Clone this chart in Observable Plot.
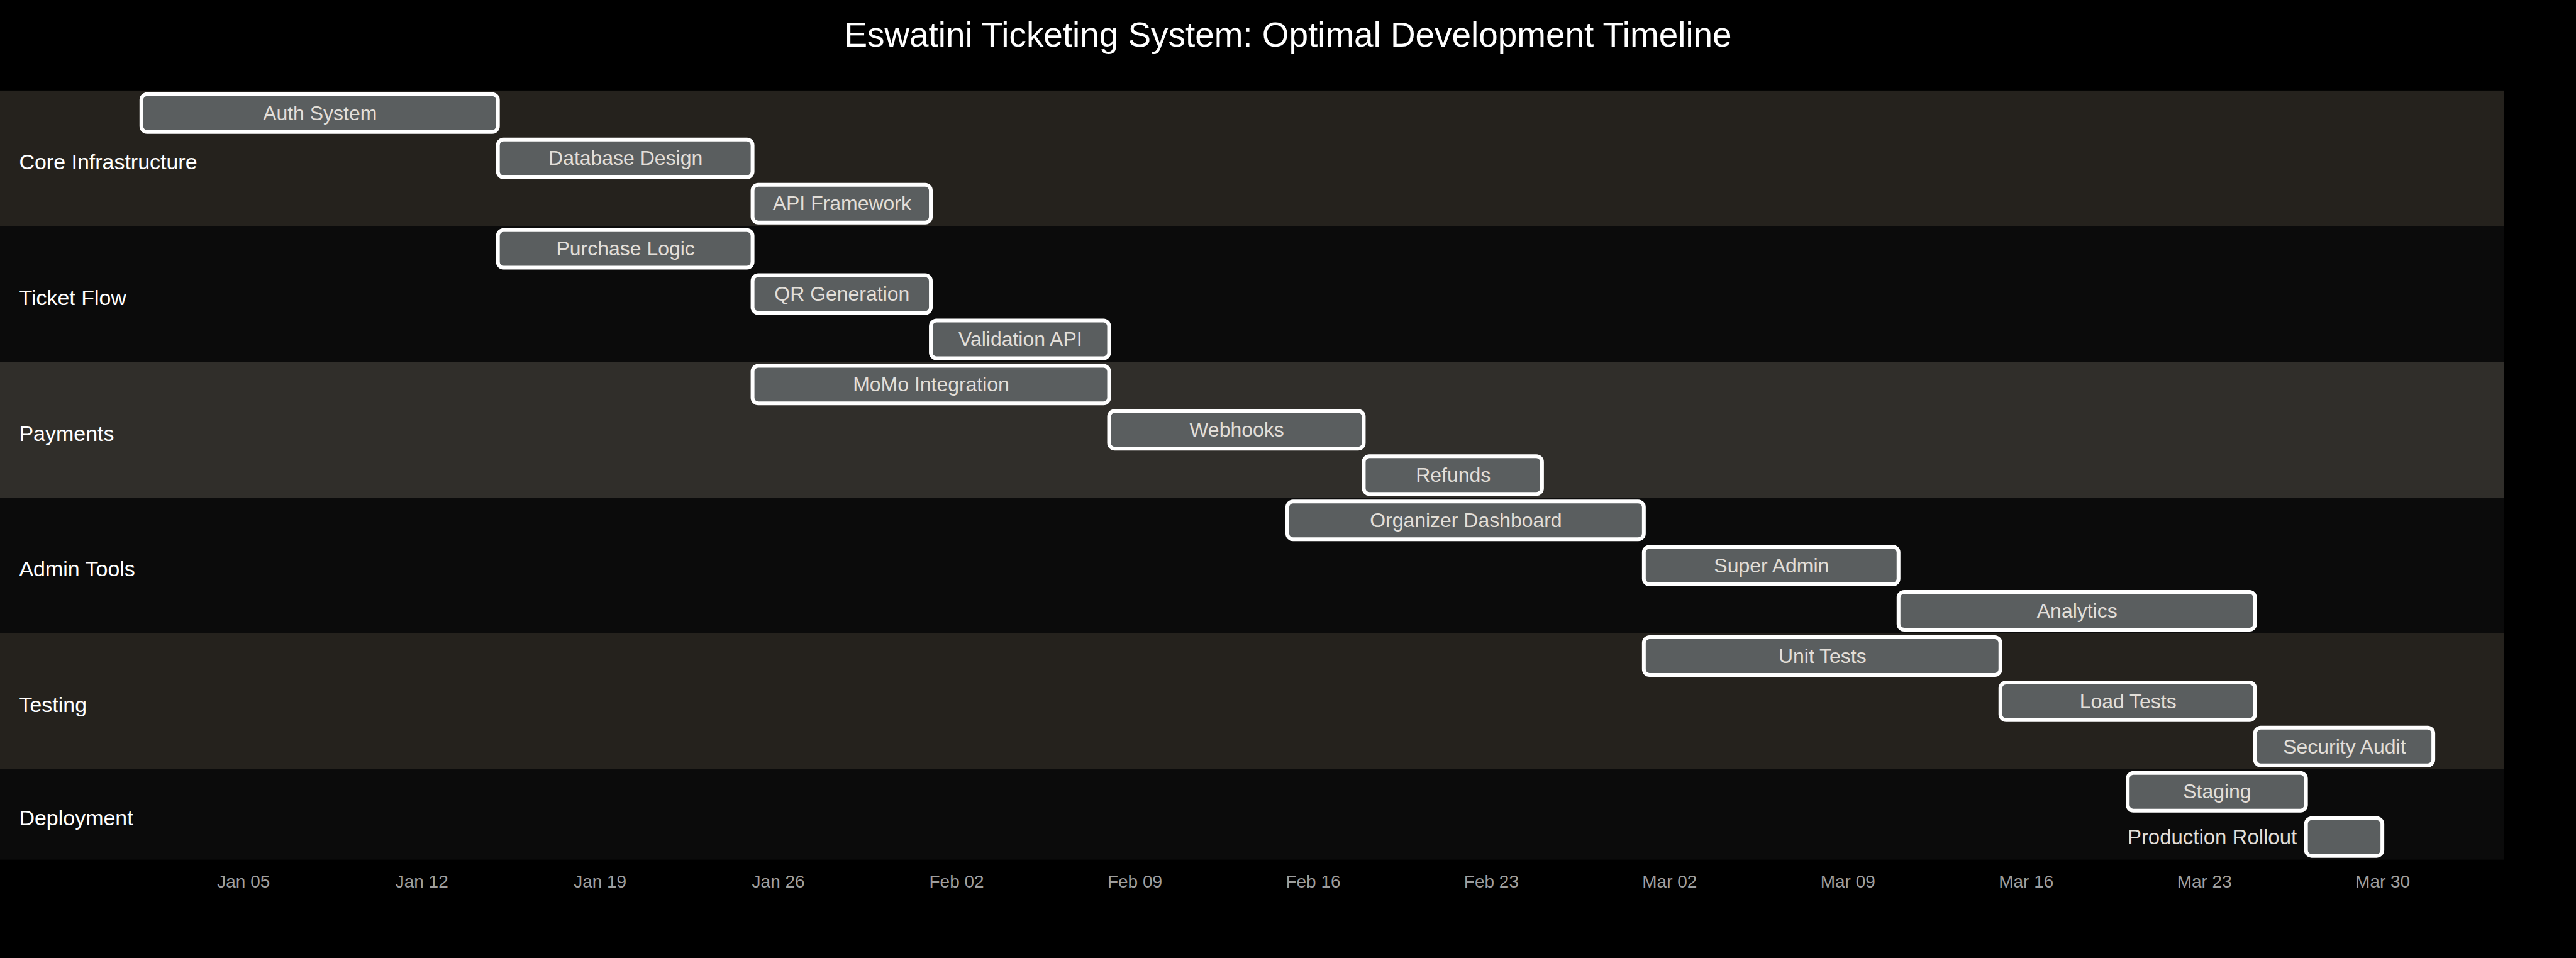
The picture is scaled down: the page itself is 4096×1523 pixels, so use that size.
<!DOCTYPE html>
<html>
<head>
<meta charset="utf-8">
<script src="https://cdn.jsdelivr.net/npm/d3@7"></script>
<script src="https://cdn.jsdelivr.net/npm/@observablehq/plot@0.6"></script>
<style>
  html, body { margin: 0; padding: 0; background: #000; }
  #wrap { position: relative; width: 4096px; height: 1523px; overflow: hidden; background: #000; }
  #title {
    position: absolute; left: 0; top: 28.4px; width: 4096px; text-align: center;
    font-family: "Liberation Sans", Arial, sans-serif; font-size: 54.85px; line-height: 1;
    color: #ffffff; white-space: nowrap;
  }
</style>
</head>
<body>
<div id="wrap">
  <div id="chart"></div>
  <div id="title"></div>
</div>
<script>
// ---- data ----
const chartTitle = "Eswatini Ticketing System: Optimal Development Timeline";
const sections = ["Core Infrastructure", "Ticket Flow", "Payments", "Admin Tools", "Testing", "Deployment"];
const taskNames = [
  "Auth System", "Database Design", "API Framework",
  "Purchase Logic", "QR Generation", "Validation API",
  "MoMo Integration", "Webhooks", "Refunds",
  "Organizer Dashboard", "Super Admin", "Analytics",
  "Unit Tests", "Load Tests", "Security Audit",
  "Staging", "Production Rollout"
];
const taskSections = [
  "Core Infrastructure", "Core Infrastructure", "Core Infrastructure",
  "Ticket Flow", "Ticket Flow", "Ticket Flow",
  "Payments", "Payments", "Payments",
  "Admin Tools", "Admin Tools", "Admin Tools",
  "Testing", "Testing", "Testing",
  "Deployment", "Deployment"
];
const taskStarts = [
  "2025-01-01", "2025-01-15", "2025-01-25",
  "2025-01-15", "2025-01-25", "2025-02-01",
  "2025-01-25", "2025-02-08", "2025-02-18",
  "2025-02-15", "2025-03-01", "2025-03-11",
  "2025-03-01", "2025-03-15", "2025-03-25",
  "2025-03-20", "2025-03-27"
];
const taskEnds = [
  "2025-01-15", "2025-01-25", "2025-02-01",
  "2025-01-25", "2025-02-01", "2025-02-08",
  "2025-02-08", "2025-02-18", "2025-02-25",
  "2025-03-01", "2025-03-11", "2025-03-25",
  "2025-03-15", "2025-03-25", "2025-04-01",
  "2025-03-27", "2025-03-30"
];
const tickDates = [
  "2025-01-05", "2025-01-12", "2025-01-19", "2025-01-26",
  "2025-02-02", "2025-02-09", "2025-02-16", "2025-02-23",
  "2025-03-02", "2025-03-09", "2025-03-16", "2025-03-23", "2025-03-30"
];

// ---- styles / layout ----
const k = 0.999;
const W = 4096, H = 1523;
const FONT = '"Liberation Sans", Arial, sans-serif';
const sectionFills = ["#25221d", "#0b0b0b", "#302e2a", "#0b0b0b"];
const taskFill = "#5a5e5f";
const taskStroke = "#ffffff";
const taskTextColor = "#e2ded8";
const tickColor = "#9e9e9e";

const parse = d3.utcParse("%Y-%m-%d");

// ---- build tables ----
const tasks = taskNames.map((name, i) => ({
  name, row: i, section: taskSections[i], start: parse(taskStarts[i]), end: parse(taskEnds[i])
}));
const sectionRows = [];
sections.forEach((s, i) => {
  const rows = tasks.filter(t => t.section === s).map(t => t.row);
  sectionRows.push({name: s, index: i, start: d3.min(rows), end: d3.max(rows) + 1});
});
const xDomain = [d3.min(tasks, d => d.start), d3.max(tasks, d => d.end)];
const pxPerMs = (3873 - 225) * k / (xDomain[1] - xDomain[0]);
const fitsInside = t => (t.end - t.start) * pxPerMs > t.name.length * 0.52 * 32 * k;
const inside = tasks.filter(fitsInside);
const outside = tasks.filter(t => !fitsInside(t));

document.getElementById("title").textContent = chartTitle;

const chart = Plot.plot({
  width: W,
  height: H,
  marginTop: 0,
  marginLeft: 0,
  marginRight: W - 3985.5 * k,
  marginBottom: H - 1368 * k,
  style: {background: "#000", fontFamily: FONT, overflow: "visible"},
  x: {type: "utc", domain: xDomain, range: [225 * k, 3873 * k], axis: null},
  y: {type: "linear", domain: [0, taskNames.length], range: [144 * k, 1368 * k], axis: null},
  color: {type: "identity"},
  marks: [
    Plot.rect(sectionRows, {y1: "start", y2: "end", fill: d => sectionFills[d.index % 4]}),
    Plot.rect(tasks, {
      x1: "start", x2: "end", y1: "row", y2: d => d.row + 1,
      insetTop: 6 * k, insetBottom: 6 * k, rx: 9 * k, ry: 9 * k,
      fill: taskFill, stroke: taskStroke, strokeWidth: 6 * k
    }),
    Plot.text(inside, {
      x: d => new Date((+d.start + +d.end) / 2), y: d => d.row + 0.5, text: "name",
      fill: taskTextColor, fontSize: 32 * k, textAnchor: "middle", lineAnchor: "middle"
    }),
    Plot.text(outside, {
      x: "start", y: d => d.row + 0.5, text: "name",
      fill: taskTextColor, fontSize: 33 * k, textAnchor: "end", lineAnchor: "middle", dx: -15 * k
    }),
    Plot.text(sectionRows, {
      y: d => (d.start + d.end) / 2, text: "name", frameAnchor: "left",
      textAnchor: "start", lineAnchor: "middle", dx: 30 * k, dy: 6 * k,
      fill: "#ffffff", fontSize: 34 * k
    }),
    Plot.axisX(tickDates.map(parse), {
      tickFormat: d3.utcFormat("%b %d"), tickSize: 0, tickPadding: 24 * k,
      fontSize: 28 * k, fill: tickColor, stroke: "none"
    })
  ]
});
document.getElementById("chart").appendChild(chart);
</script>
</body>
</html>
